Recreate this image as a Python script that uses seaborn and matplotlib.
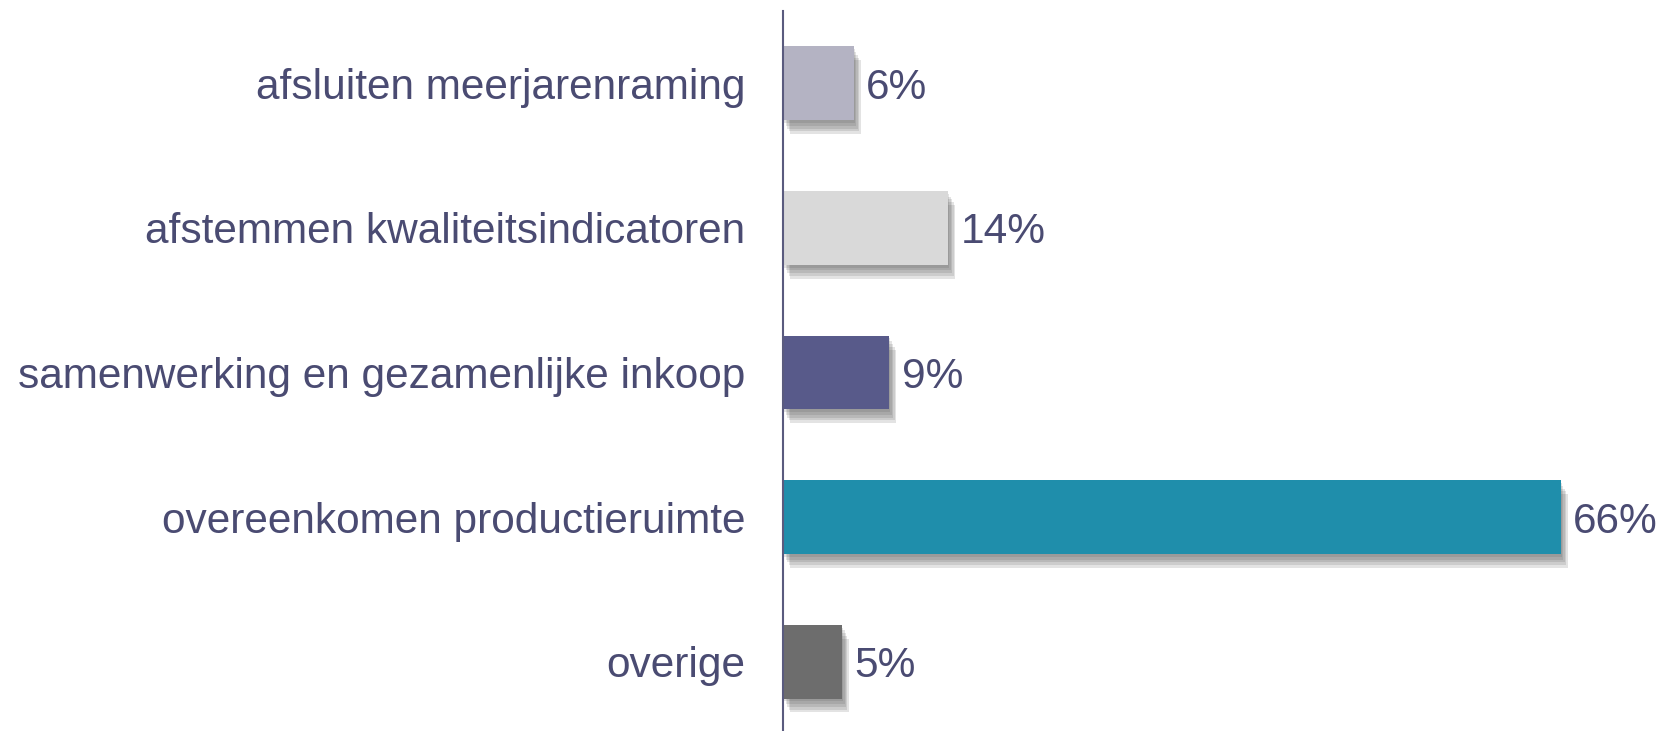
import matplotlib
matplotlib.use('Agg')
import matplotlib.pyplot as plt
import matplotlib.patheffects as pe
import seaborn as sns
import pandas as pd

# Chart data
categories = ['afsluiten meerjarenraming', 'afstemmen kwaliteitsindicatoren',
              'samenwerking en gezamenlijke inkoop', 'overeenkomen productieruimte', 'overige']
values = [6, 14, 9, 66, 5]
labels = ['6%', '14%', '9%', '66%', '5%']
colors = ['#B4B3C3', '#D9D9D9', '#585A8A', '#1F8EAB', '#6D6D6D']

text_color = '#4A4B72'

sns.set_theme(style='white')
plt.rcParams['font.family'] = ['Liberation Sans', 'DejaVu Sans']

df = pd.DataFrame({'category': categories, 'value': values})

fig = plt.figure(figsize=(16.62, 7.31), dpi=100)
ax = fig.add_axes([783 / 1662, -3 / 731, (1662 - 783) / 1662, 723 / 731])

sns.barplot(data=df, x='value', y='category', hue='category', palette=colors,
            orient='h', width=0.51, legend=False, ax=ax, saturation=1, linewidth=0)

# soft drop shadow under each bar (stacked shadows fake a blur)
shadow = [pe.SimplePatchShadow(offset=(o, -o * 2), shadow_rgbFace='#555555', alpha=0.16)
          for o in (5, 4, 3, 2, 1)]
for bar in ax.patches:
    bar.set_edgecolor('none')
    bar.set_path_effects(shadow + [pe.Normal()])

# value labels
for bar, lab in zip(ax.patches, labels):
    ax.annotate(lab, (bar.get_width(), bar.get_y() + bar.get_height() / 2),
                xytext=(9, 0), textcoords='offset points', va='center_baseline', ha='left',
                fontsize=30.5, color=text_color)

ax.set_xlim(0, 74.6)
ax.set_xlabel('')
ax.set_ylabel('')
ax.set_xticks([])
ax.tick_params(axis='y', length=0, pad=27, labelsize=30.5, labelcolor=text_color)
for t in ax.get_yticklabels():
    t.set_verticalalignment('center_baseline')

for side in ['top', 'right', 'bottom']:
    ax.spines[side].set_visible(False)
ax.spines['left'].set_color('#5A5B7E')
ax.spines['left'].set_linewidth(1.5)

fig.savefig('out.png', dpi=100, facecolor='white')
